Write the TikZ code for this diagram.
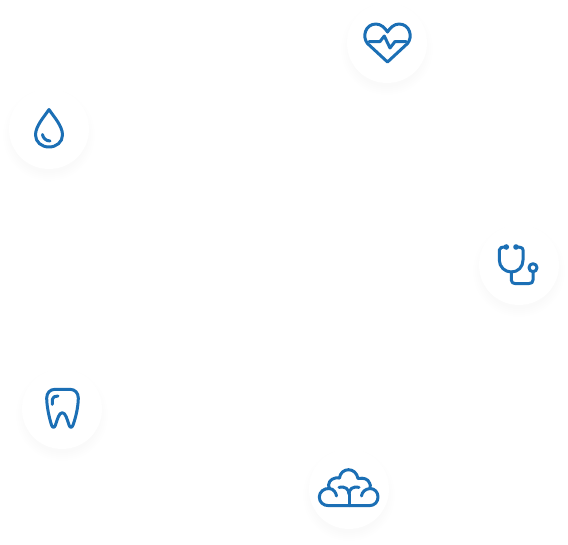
\documentclass[tikz,border=0pt]{standalone}
\usepackage{xcolor}
\definecolor{iconblue}{HTML}{1B6FB5}
\tikzset{
	badge/.style={circle,fill=white,minimum size=80pt,inner sep=0pt},
	iconline/.style={draw=iconblue,line width=3pt,line cap=round,line join=round},
}
\begin{document}
\begin{tikzpicture}[x=1pt,y=-1pt]
	\useasboundingbox (0,0) rectangle (568,544);
	
	% Soft shadows and white discs
	\foreach \nm/\px/\py in {heart/387/43,drop/49/129,steth/519/265,tooth/62/409,brain/349/489}{
		\foreach \rr in {38,40,...,46}{
			\fill[black,opacity=0.0035] (\px,\py+6) circle (\rr);
		}
		\node[badge] (\nm) at (\px,\py) {};
	}
	
	% Heart
	\begin{scope}[shift={(heart.center)}]
		\draw[iconline] (0.5,19) -- (-19.5,0.5) .. controls (-25,-6) and (-22,-19) .. (-11,-19)
			.. controls (-6,-19) and (-2,-15) .. (0.5,-11)
			.. controls (3,-15) and (7,-19) .. (12,-19)
			.. controls (23,-19) and (26,-6) .. (20.5,0.5) -- cycle;
		\draw[iconline] (-18,-1.5) -- (-7,-1.5) -- (-2.7,-7) -- (3,5) -- (8,-1.5) -- (19,-1.5);
	\end{scope}
	
	% Drop
	\begin{scope}[shift={(drop.center)}]
		\draw[iconline] (0,-19.5) .. controls (-5,-12) and (-13.5,-3) .. (-13.5,6)
			.. controls (-13.5,13) and (-7.5,18) .. (0,18)
			.. controls (7.5,18) and (13.5,13) .. (13.5,6)
			.. controls (13.5,-3) and (5,-12) .. (0,-19.5) -- cycle;
		\draw[iconline] (-6.5,5.5) .. controls (-6,9) and (-3,12) .. (1,12);
	\end{scope}
	
	% Stethoscope
	\begin{scope}[shift={(steth.center)}]
		\draw[iconline] (-13,-18) .. controls (-17,-18) and (-19.7,-17.5) .. (-19.7,-15) -- (-19.7,-5)
			.. controls (-19.7,2) and (-14,7) .. (-7.7,7)
			.. controls (-1,7) and (4,2) .. (4,-5) -- (4,-15)
			.. controls (4,-17.5) and (1,-18) .. (-3,-18);
		\fill[iconblue] (-12.7,-18) circle (2.8);
		\fill[iconblue] (-3,-18) circle (2.8);
		\draw[iconline] (-7.7,7) -- (-7.7,15) .. controls (-7.7,17.5) and (-6,18.5) .. (-4,18.5) -- (10,18.5)
			.. controls (12.5,18.5) and (14,17.5) .. (14,15) -- (14,7);
		\draw[iconline] (14,2.7) circle (4);
	\end{scope}
	
	% Tooth
	\begin{scope}[shift={(tooth.center)}]
		\draw[iconline] (-7,-19.7) -- (8,-19.7) .. controls (13,-19.7) and (16.3,-16) .. (16.3,-11)
			.. controls (16.3,-3) and (14,8) .. (11,16) .. controls (10,19) and (8,19) .. (7,16)
			.. controls (5,10) and (3.5,3.7) .. (0.3,3.7)
			.. controls (-3,3.7) and (-4.5,10) .. (-6.5,16) .. controls (-7.5,19) and (-9.5,19) .. (-10.5,16)
			.. controls (-13,8) and (-15.3,-3) .. (-15.3,-11)
			.. controls (-15.3,-16) and (-12,-19.7) .. (-7,-19.7) -- cycle;
		\draw[iconline] (-9.7,-4.7) -- (-9.7,-9.5) .. controls (-9.7,-12) and (-7,-13) .. (-4,-13);
	\end{scope}
	
	% Brain
	\begin{scope}[shift={(brain.center)}]
		\draw[iconline] (-20,16.7) -- (20,16.7) .. controls (26,16.7) and (29,12.5) .. (29,8)
			.. controls (29,3) and (25.5,-0.5) .. (21,-0.5)
			.. controls (22,-3) and (21,-5) .. (20.5,-6)
			.. controls (19,-10) and (15,-11.5) .. (9,-10.5)
			.. controls (8,-16) and (4,-19.3) .. (-0.5,-19.3)
			.. controls (-5,-19.3) and (-9,-16) .. (-9.5,-11)
			.. controls (-15,-12) and (-20,-9) .. (-20.5,-4)
			.. controls (-20.5,-3) and (-20,-1.5) .. (-19.5,-0.5)
			.. controls (-25,-1) and (-29.7,3) .. (-29.7,8)
			.. controls (-29.7,13) and (-26,16.7) .. (-20,16.7) -- cycle;
		\draw[iconline] (-19.5,-0.5) .. controls (-15,0) and (-13,4) .. (-12.5,7);
		\draw[iconline] (21,-0.5) .. controls (16,0) and (13,3) .. (12.5,7);
		\draw[iconline] (0,16.7) -- (0,5);
		\draw[iconline] (-10,-1.7) .. controls (-4,-3) and (0,0) .. (0,5);
		\draw[iconline] (10,-1.7) .. controls (4,-3) and (0,0) .. (0,5);
	\end{scope}
\end{tikzpicture}
\end{document}
